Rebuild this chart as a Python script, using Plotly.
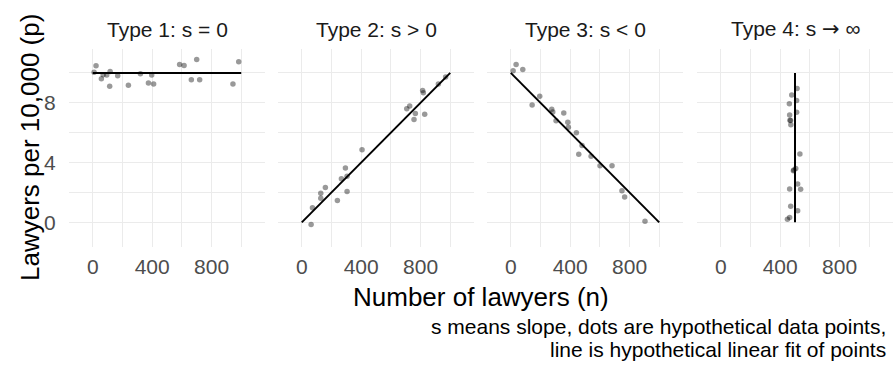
import plotly.graph_objects as go

# ---------------- data ----------------
panel_titles = ["Type 1: s = 0", "Type 2: s > 0", "Type 3: s < 0", "Type 4: s \u2192 \u221e"]

t1_n = [9, 22, 58, 70, 94, 114, 117, 168, 240, 321, 375, 397, 410, 585, 615, 664, 700, 720, 944, 983]
t1_p = [10.05, 10.48, 9.61, 9.88, 9.86, 9.10, 10.10, 9.81, 9.18, 9.95, 9.32, 9.86, 9.25, 10.57, 10.50, 9.54, 10.90, 9.54, 9.25, 10.75]

t2_n = [63, 72, 128, 128, 159, 240, 267, 294, 305, 305, 406, 707, 727, 756, 765, 814, 819, 828, 920, 969]
t2_p = [-0.15, 0.98, 1.61, 1.94, 2.34, 1.47, 2.92, 3.63, 3.08, 2.07, 4.86, 7.60, 7.78, 6.89, 7.29, 8.83, 8.67, 7.24, 9.25, 9.72]

t3_n = [16, 36, 81, 144, 195, 276, 283, 305, 357, 384, 388, 442, 458, 480, 541, 601, 682, 749, 767, 904]
t3_p = [10.15, 10.57, 10.23, 7.85, 8.43, 7.56, 7.38, 6.80, 7.31, 6.69, 6.37, 6.00, 4.55, 5.15, 4.43, 3.79, 3.79, 2.12, 1.69, 0.07]

t4_n = [514, 478, 511, 462, 511, 464, 466, 470, 472, 533, 505, 489, 518, 464, 538, 471, 518, 464, 449, 492]
t4_p = [8.96, 8.52, 8.16, 7.94, 7.36, 7.18, 6.84, 6.82, 6.53, 4.57, 3.61, 3.46, 2.56, 2.23, 2.21, 1.07, 0.78, 0.33, 0.20, 3.50]

fit_n = [[0, 1000], [0, 1000], [0, 1000], [500, 500]]
fit_p = [[10, 10], [0, 10], [10, 0], [0, 10]]

x_ticks = [0, 400, 800]
x_minor = [200, 600, 1000]
y_ticks = [0, 4, 8]
y_minor = [2, 6, 10]

x_title = "Number of lawyers (n)"
y_title = "Lawyers per 10,000 (p)"
caption_lines = ["s means slope, dots are hypothetical data points,",
                 "line is hypothetical linear fit of points"]

# ---------------- layout geometry ----------------
W, H = 893, 367
ML, MR, MT, MB = 69, 0, 49, 120
PW = W - ML - MR
PH = H - MT - MB

def px_x(X):
    return (X - ML) / PW

def px_y(Y):
    return (H - MB - Y) / PH

panel_px = [(69, 265), (278, 474), (487, 683), (697, 893)]

FONT = "Liberation Sans, Arial, Helvetica, sans-serif"
GRID = "#EBEBEB"

fig = go.Figure()

series = [(t1_n, t1_p), (t2_n, t2_p), (t3_n, t3_p), (t4_n, t4_p)]
for i, (n, p) in enumerate(series):
    xa = "x" if i == 0 else f"x{i+1}"
    ya = "y" if i == 0 else f"y{i+1}"
    fig.add_trace(go.Scatter(x=n, y=p, mode="markers", xaxis=xa, yaxis=ya,
                             marker=dict(size=5.5, color="rgba(0,0,0,0.4)", line=dict(width=0)),
                             showlegend=False, hoverinfo="skip"))
    fig.add_trace(go.Scatter(x=fit_n[i], y=fit_p[i], mode="lines", xaxis=xa, yaxis=ya,
                             line=dict(color="black", width=2),
                             showlegend=False, hoverinfo="skip"))

layout = dict(
    width=W, height=H,
    margin=dict(l=ML, r=MR, t=MT, b=MB, pad=0),
    paper_bgcolor="white", plot_bgcolor="white",
    font=dict(family=FONT, size=21, color="#4D4D4D"),
)

for i, (a, b) in enumerate(panel_px):
    xk = "xaxis" if i == 0 else f"xaxis{i+1}"
    yk = "yaxis" if i == 0 else f"yaxis{i+1}"
    anchor_y = "y" if i == 0 else f"y{i+1}"
    anchor_x = "x" if i == 0 else f"x{i+1}"
    layout[xk] = dict(
        domain=[px_x(a), min(px_x(b), 1.0)], anchor=anchor_y,
        range=[-160, 1160], tickmode="array", tickvals=x_ticks,
        ticktext=[str(v) for v in x_ticks],
        showgrid=True, gridcolor=GRID, gridwidth=1.3, zeroline=False,
        showline=False, ticks="outside", ticklen=1, tickcolor="rgba(0,0,0,0)",
        tickfont=dict(family=FONT, size=21, color="#4D4D4D"),
        minor=dict(tickmode="array", tickvals=x_minor, showgrid=True,
                   gridcolor=GRID, gridwidth=1.0, ticks=""),
    )
    layout[yk] = dict(
        domain=[0, 1], anchor=anchor_x,
        range=[-1.65, 11.6], tickmode="array", tickvals=y_ticks,
        ticktext=[str(v) for v in y_ticks], showticklabels=(i == 0),
        showgrid=True, gridcolor=GRID, gridwidth=1.3, zeroline=False,
        showline=False, ticks="outside" if i == 0 else "", ticklen=8,
        tickcolor="rgba(0,0,0,0)",
        tickfont=dict(family=FONT, size=21, color="#4D4D4D"),
        minor=dict(tickmode="array", tickvals=y_minor, showgrid=True,
                   gridcolor=GRID, gridwidth=1.0, ticks=""),
    )
    if i > 0:
        layout[yk]["matches"] = "y"

annotations = []
for i, (a, b) in enumerate(panel_px):
    title = panel_titles[i].replace("\u2192 \u221e",
                                    "<span style='font-family:DejaVu Sans'>\u2192</span> \u221e")
    annotations.append(dict(text=title, xref="paper", yref="paper",
                            x=px_x((a + b) / 2), y=px_y(29), xanchor="center", yanchor="middle",
                            showarrow=False, font=dict(family=FONT, size=21, color="#1A1A1A")))

annotations.append(dict(text=x_title, xref="paper", yref="paper",
                        x=px_x(481), y=px_y(297), xanchor="center", yanchor="middle",
                        showarrow=False, font=dict(family=FONT, size=26, color="black")))
annotations.append(dict(text=y_title, xref="paper", yref="paper",
                        x=px_x(30), y=px_y(148), xanchor="center", yanchor="middle",
                        textangle=-90, showarrow=False,
                        font=dict(family=FONT, size=26, color="black")))
for j, (line, Y) in enumerate(zip(caption_lines, [326, 349])):
    annotations.append(dict(text=line, xref="paper", yref="paper",
                            x=px_x(888), y=px_y(Y), xanchor="right", yanchor="middle",
                            showarrow=False, font=dict(family=FONT, size=21, color="black")))

layout["annotations"] = annotations
fig.update_layout(**layout)

fig.write_html("out.html", config={"displayModeBar": False},
               post_script="document.body.style.margin='0';")
